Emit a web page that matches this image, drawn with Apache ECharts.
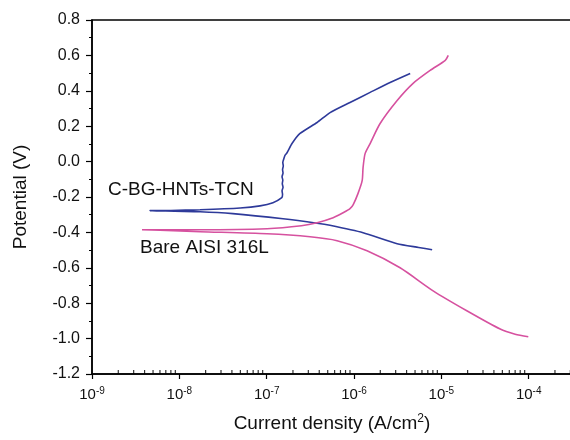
<!DOCTYPE html>
<html>
<head>
<meta charset="utf-8">
<script src="https://cdn.jsdelivr.net/npm/echarts@6/dist/echarts.min.js"></script>
<style>
  html, body { margin: 0; padding: 0; background: #fff; }
  #chart { width: 570px; height: 440px; }
</style>
</head>
<body>
<div id="chart"></div>
<script>
var chart = echarts.init(document.getElementById('chart'));

// C-BG-HNTs-TCN: cathodic end -> Ecorr tip -> anodic end
var coatCurrent = [7.85e-6, 5.5e-6, 3.12e-6, 1.27e-6, 5.3e-7, 3.78e-7, 1.54e-7, 4.1e-8, 1.73e-8, 7e-9, 4.6e-9,
    8e-9, 1.73e-8, 4.96e-8, 8.4e-8, 1.18e-7, 1.49e-7, 1.52e-7, 1.50e-7, 1.54e-7, 1.51e-7, 1.53e-7, 1.50e-7,
    1.54e-7, 1.52e-7, 1.55e-7, 1.53e-7, 1.57e-7, 1.62e-7, 1.71e-7, 1.95e-7, 2.41e-7, 3.78e-7, 5.32e-7,
    9.0e-7, 1.53e-6, 2.59e-6, 4.4e-6];
var coatPotential = [-0.498, -0.485, -0.464, -0.402, -0.360, -0.348, -0.323, -0.294, -0.283, -0.279, -0.277,
    -0.276, -0.272, -0.262, -0.250, -0.232, -0.204, -0.185, -0.165, -0.145, -0.125, -0.105, -0.085,
    -0.065, -0.045, -0.025, -0.005, 0.015, 0.035, 0.050, 0.102, 0.159, 0.221, 0.277,
    0.334, 0.391, 0.447, 0.498];

// Bare AISI 316L
var bareCurrent = [9.9e-5, 7e-5, 4.72e-5, 1.98e-5, 8.05e-6, 3.37e-6, 1.41e-6, 6.4e-7, 3.14e-7, 1.01e-7, 1.73e-8, 6e-9, 3.74e-9,
    6e-9, 1.73e-8, 1.01e-7, 2.5e-7, 3.78e-7, 5.77e-7, 7.5e-7, 9.0e-7, 9.8e-7, 1.11e-6, 1.24e-6, 1.27e-6,
    1.34e-6, 1.53e-6, 1.99e-6, 3.12e-6, 4.75e-6, 7.44e-6, 1.11e-5, 1.2e-5];
var barePotential = [-0.99, -0.975, -0.946, -0.844, -0.730, -0.600, -0.504, -0.447, -0.425, -0.408, -0.396, -0.388, -0.385,
    -0.385, -0.385, -0.379, -0.362, -0.345, -0.317, -0.289, -0.266, -0.243, -0.181, -0.108, -0.034,
    0.045, 0.102, 0.215, 0.345, 0.442, 0.515, 0.572, 0.600];

var seriesNames = ['C-BG-HNTs-TCN', 'Bare AISI 316L'];
var decades = [-9, -8, -7, -6, -5, -4, -3];
var yMin = -1.2, yMax = 0.8;

function pairs(xs, ys) {
    var out = [];
    for (var i = 0; i < xs.length; i++) out.push([xs[i], ys[i]]);
    return out;
}

// minor ticks of the log axis (2..9 x 10^n), pointing inward
var minorTicks = [];
for (var d = 0; d < decades.length - 1; d++) {
    for (var m = 2; m <= 9; m++) minorTicks.push([m * Math.pow(10, decades[d]), yMin]);
}

var font = 'Liberation Sans, Arial, sans-serif';

var option = {
    animation: false,
    grid: {
        left: 92, top: 20, height: 354, width: 524, outerBoundsMode: 'none',
        show: true, borderColor: '#000', borderWidth: 1.5
    },
    xAxis: {
        type: 'log',
        logBase: 10,
        min: Math.pow(10, decades[0]),
        max: Math.pow(10, decades[decades.length - 1]),
        name: 'Current density (A/cm{sup|2})',
        nameLocation: 'middle',
        nameGap: 39,
        nameTextStyle: {
            fontFamily: font, fontSize: 19, color: '#111',
            padding: [0, 44, 0, 0],
            rich: { sup: { fontFamily: font, fontSize: 12, verticalAlign: 'top', padding: [0, 0, 9, 0] } }
        },
        axisLine: { onZero: false, lineStyle: { color: '#000', width: 1.5 } },
        axisTick: { length: 5, lineStyle: { color: '#000', width: 1.2 } },
        splitLine: { show: false },
        axisLabel: {
            margin: 12,
            fontFamily: font, fontSize: 15, color: '#111',
            formatter: function (v) {
                return '10{sup|' + Math.round(Math.log10(v)) + '}';
            },
            rich: { sup: { fontFamily: font, fontSize: 10, verticalAlign: 'top', padding: [0, 0, 7, 0] } }
        }
    },
    yAxis: {
        type: 'value',
        min: yMin,
        max: yMax,
        interval: 0.2,
        name: 'Potential (V)',
        nameLocation: 'middle',
        nameGap: 62,
        nameTextStyle: { fontFamily: font, fontSize: 19, color: '#111' },
        axisLine: { show: true, onZero: false, lineStyle: { color: '#000', width: 1.5 } },
        axisTick: { show: true, length: 6, lineStyle: { color: '#000', width: 1.2 } },
        minorTick: { show: true, splitNumber: 2, length: 3, lineStyle: { color: '#000', width: 1 } },
        splitLine: { show: false },
        axisLabel: {
            margin: 12,
            fontFamily: font, fontSize: 16, color: '#111',
            formatter: function (v) { return v.toFixed(1); }
        }
    },
    series: [
        {
            name: seriesNames[0], type: 'line', showSymbol: false, smooth: 0.2,
            lineStyle: { color: '#2e3a9a', width: 1.6 },
            data: pairs(coatCurrent, coatPotential)
        },
        {
            name: seriesNames[1], type: 'line', showSymbol: false, smooth: 0.25,
            lineStyle: { color: '#d6519f', width: 1.6 },
            data: pairs(bareCurrent, barePotential)
        },
        {
            name: 'minor ticks', type: 'scatter', silent: true, clip: false,
            symbol: 'rect', symbolSize: [1.2, 4], symbolOffset: [0, -2],
            itemStyle: { color: '#000' },
            data: minorTicks
        }
    ],
    graphic: [
        { type: 'text', left: 108, top: 180, style: { text: seriesNames[0], font: '19px ' + font, fill: '#111' } },
        { type: 'text', left: 140, top: 238, style: { text: seriesNames[1], font: '19px ' + font, fill: '#111' } }
    ]
};
chart.setOption(option);
</script>
</body>
</html>
